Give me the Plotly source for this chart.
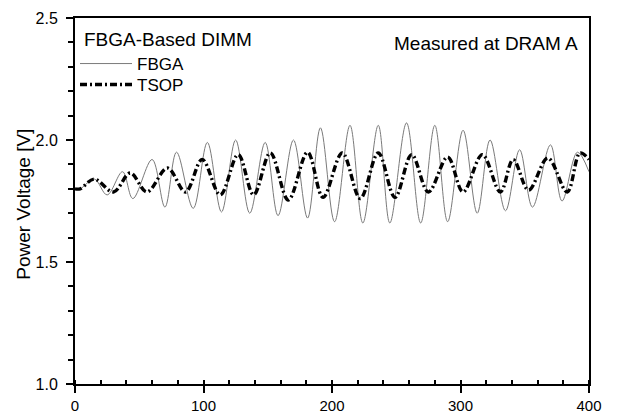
import plotly.graph_objects as go

# Data (extrema of the waveforms)
fbga_x = [0, 4, 15, 25, 37, 45, 60, 70, 79, 92, 103, 114, 125, 136, 148, 158, 170, 181, 191, 202,
          214, 224, 236, 245, 258, 269, 280, 290, 302, 313, 323, 335, 346, 356, 370, 379, 391, 400]
fbga_y = [1.80, 1.80, 1.84, 1.775, 1.87, 1.76, 1.92, 1.725, 1.95, 1.72, 1.99, 1.705, 2.00, 1.70, 1.99,
          1.69, 2.00, 1.68, 2.05, 1.665, 2.06, 1.66, 2.06, 1.66, 2.07, 1.66, 2.06, 1.665, 2.04, 1.70,
          2.00, 1.71, 1.96, 1.725, 1.98, 1.75, 1.95, 1.87]

tsop_x = [0, 4, 15, 30, 43, 56, 72, 86, 99, 113, 127, 139, 152, 166, 181, 193, 208, 222, 236, 249,
          262, 275, 290, 302, 317, 331, 341, 353, 368, 383, 393, 400]
tsop_y = [1.80, 1.80, 1.84, 1.787, 1.865, 1.787, 1.885, 1.787, 1.92, 1.775, 1.94, 1.775, 1.947, 1.754,
          1.95, 1.765, 1.947, 1.76, 1.947, 1.765, 1.94, 1.787, 1.93, 1.787, 1.94, 1.787, 1.92, 1.795,
          1.926, 1.787, 1.947, 1.92]

x_ticks = [0, 100, 200, 300, 400]
y_ticks = [1.0, 1.5, 2.0, 2.5]
y_tick_labels = ["1.0", "1.5", "2.0", "2.5"]

FONT = "Liberation Sans, Arial, sans-serif"
TXT = 19
LEG = 17

fig = go.Figure()
fig.add_trace(go.Scatter(
    x=fbga_x, y=fbga_y, name="FBGA", mode="lines", legend="legend",
    line=dict(color="#7a7a7a", width=1, shape="spline", smoothing=1.0),
))
fig.add_trace(go.Scatter(
    x=tsop_x, y=tsop_y, name="TSOP", mode="lines", legend="legend2",
    line=dict(color="black", width=3.4, shape="spline", smoothing=1.0, dash="7px,3px,2px,3px"),
))

leg_common = dict(
    xanchor="left", yanchor="middle",
    bgcolor="rgba(0,0,0,0)", borderwidth=0,
    font=dict(size=LEG, family=FONT),
    itemwidth=52,
)

fig.update_layout(
    width=618, height=413,
    margin=dict(l=75, r=29, t=18, b=29, autoexpand=False),
    paper_bgcolor="white", plot_bgcolor="white",
    font=dict(family=FONT, color="black", size=16),
    showlegend=True,
    legend=dict(x=0.0, y=(384 - 64) / 366, **leg_common),
    legend2=dict(x=0.0, y=(384 - 85) / 366, **leg_common),
)

fig.update_xaxes(
    range=[0, 400], tickvals=x_ticks, automargin=False,
    showgrid=False, zeroline=False,
    showline=True, linewidth=2, linecolor="black", mirror=True,
    ticks="outside", ticklen=7, tickwidth=2, tickcolor="black",
    tickfont=dict(size=15, family=FONT), ticklabelstandoff=0,
    minor=dict(dtick=20, ticks="inside", ticklen=4, tickwidth=1.5, tickcolor="black", showgrid=False),
)
fig.update_yaxes(
    range=[1.0, 2.5], tickvals=y_ticks, ticktext=y_tick_labels, automargin=False,
    showgrid=False, zeroline=False,
    showline=True, linewidth=2, linecolor="black", mirror=True,
    ticks="outside", ticklen=7, tickwidth=2, tickcolor="black",
    tickfont=dict(size=16, family=FONT), ticklabelstandoff=5,
    minor=dict(dtick=0.1, ticks="outside", ticklen=5, tickwidth=1.5, tickcolor="black", showgrid=False),
)

fig.add_annotation(
    text="FBGA-Based DIMM",
    xref="paper", yref="paper", x=(82 - 75) / 514, y=(384 - 40) / 366,
    xanchor="left", yanchor="middle", showarrow=False,
    font=dict(size=TXT, family=FONT),
)
fig.add_annotation(
    text="Power Voltage [V]", textangle=-90,
    xref="paper", yref="paper", x=0, y=0.49, xanchor="center", yanchor="middle",
    xshift=-51, showarrow=False, font=dict(size=TXT, family=FONT),
)
fig.add_annotation(
    text="Measured at DRAM A",
    xref="paper", yref="paper", x=(580 - 75) / 514, y=(384 - 44) / 366,
    xanchor="right", yanchor="middle",
    showarrow=False, font=dict(size=TXT, family=FONT),
)

fig.write_html("out.html")
